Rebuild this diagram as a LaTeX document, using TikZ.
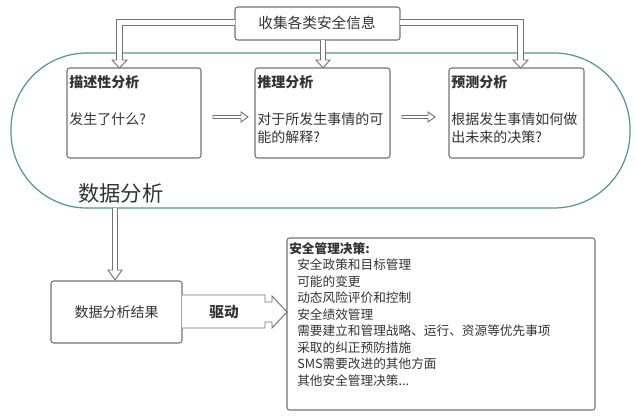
\documentclass[tikz,border=0pt]{standalone}
\usepackage{fontspec}
\setmainfont{Noto Sans CJK SC}
\begin{document}
\begin{tikzpicture}[x=0.75pt,y=0.75pt,yscale=-1,xscale=1,
  box/.style={draw=black!55, rounded corners=2pt, line width=0.8pt},
  hollow/.style={draw=black!55, fill=white, line width=0.7pt},
  txt/.style={inner sep=0.75pt, font=\fontsize{10.5}{13.5}\selectfont, text=black!80}]
\useasboundingbox (0,0) rectangle (636,418);

%Oval: data analysis
\draw [draw={rgb, 255:red, 80; green, 150; blue, 135}, line width=0.9pt, rounded corners=57pt] (11,53) rectangle (630,208);

%Top box
\draw [box] (235,7) rectangle (400,40);
\node [txt, font=\fontsize{11}{13}\selectfont] (collect) at (317,23) {收集各类安全信息};

%Elbow arrows
\draw [hollow] (235,19.5) -- (116.5,19.5) -- (116.5,60) -- (112,60) -- (119.5,68) -- (127,60) -- (122.5,60) -- (122.5,25.5) -- (235,25.5) ;
\draw [hollow] (400,19.5) -- (523.5,19.5) -- (523.5,60) -- (528,60) -- (520.5,68) -- (513,60) -- (517.5,60) -- (517.5,25.5) -- (400,25.5) ;
\draw [hollow] (320.5,40) -- (320.5,60) -- (316,60) -- (323,68) -- (330,60) -- (325.5,60) -- (325.5,40) ;

%Analysis boxes
\draw [box] (67,68) rectangle (201,158);
\draw [box] (255,68) rectangle (390,158);
\draw [box] (449,68) rectangle (584,158);
\node [txt, anchor=north west, font=\fontsize{10.5}{13.5}\bfseries\selectfont] (descT) at (68,74) {描述性分析};
\node [txt, anchor=north west] (descB) at (68,111) {发生了什么?};
\node [txt, anchor=north west, font=\fontsize{10.5}{13.5}\bfseries\selectfont] (infT) at (256,74) {推理分析};
\node [txt, anchor=north west, align=left] (infB) at (256,111) {对于所发生事情的可\\能的解释?};
\node [txt, anchor=north west, font=\fontsize{10.5}{13.5}\bfseries\selectfont] (preT) at (450,74) {预测分析};
\node [txt, anchor=north west, align=left] (preB) at (450,111) {根据发生事情如何做\\出未来的决策?};

%Arrows between boxes
\draw [hollow] (213,115.5) -- (241,115.5) -- (241,112) -- (248,117) -- (241,122) -- (241,118.5) -- (213,118.5) -- cycle ;
\draw [hollow] (402,115.5) -- (428,115.5) -- (428,112) -- (435,117) -- (428,122) -- (428,118.5) -- (402,118.5) -- cycle ;

\node [txt, anchor=west, font=\fontsize{16}{18}\selectfont] (analysis) at (77,193) {数据分析};

%Down arrow
\draw [hollow] (112.5,208) -- (112.5,270) -- (108,270) -- (115,280) -- (122,270) -- (117.5,270) -- (117.5,208) ;

%Result box
\draw [box] (51,281) rectangle (182,343);
\node [txt] (result) at (116.5,312) {数据分析结果};

%Drive arrow
\draw [hollow] (182,295) -- (265,295) -- (265,302) -- (272,302) -- (272,296) -- (287,312) -- (272,328) -- (272,322) -- (265,322) -- (265,328) -- (182,328) ;
\node [txt, font=\fontsize{11}{13}\bfseries\selectfont] (drive) at (224,312) {驱动};

%Decision box
\draw [box] (287,238) rectangle (595,410);
\node [txt, anchor=north west, align=left, font=\fontsize{9.5}{12.4}\selectfont] (decision) at (288,241)
 {\textbf{安全管理决策:}\\
  \hspace{6pt}安全政策和目标管理\\
  \hspace{6pt}可能的变更\\
  \hspace{6pt}动态风险评价和控制\\
  \hspace{6pt}安全绩效管理\\
  \hspace{6pt}需要建立和管理战略、运行、资源等优先事项\\
  \hspace{6pt}采取的纠正预防措施\\
  \hspace{6pt}SMS需要改进的其他方面\\
  \hspace{6pt}其他安全管理决策...};

\end{tikzpicture}
\end{document}
